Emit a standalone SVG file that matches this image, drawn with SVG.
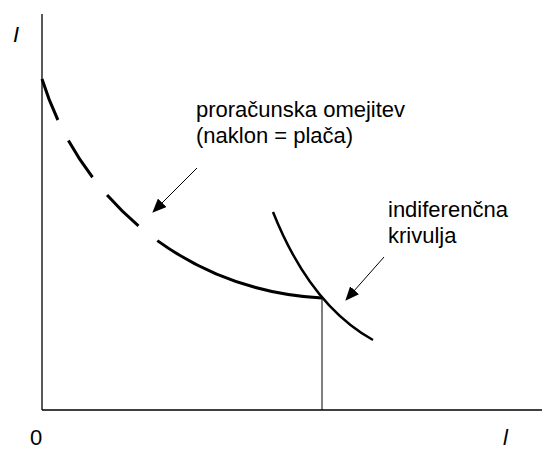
<svg xmlns="http://www.w3.org/2000/svg" width="542" height="450" viewBox="0 0 542 450">
<defs>
<style>
.lbl{font-family:"Liberation Sans",Arial,sans-serif;font-size:22px;fill:#000}
.ax{font-family:"Liberation Sans",Arial,sans-serif;font-size:22px;font-style:italic;fill:#000}
.axis{stroke:#000;stroke-width:1.3;fill:none}
.thin{stroke:#000;stroke-width:1;fill:none}
.ptr{stroke:#000;stroke-width:1;fill:none;marker-end:url(#ah)}
</style>
<marker id="ah" markerWidth="14" markerHeight="12" refX="13" refY="6" orient="auto" markerUnits="userSpaceOnUse">
<path d="M0,0 L14,6 L0,12 Z" fill="#000"/>
</marker>
</defs>
<rect width="542" height="450" fill="#fff"/>
<g id="axes">
<line class="axis" x1="42" y1="14" x2="42" y2="410"/>
<line class="axis" x1="42" y1="410" x2="542" y2="410"/>
<text class="ax" x="13" y="42">I</text>
<text class="lbl" x="30" y="445">0</text>
<text class="ax" x="503" y="445">l</text>
</g>
<g id="budget">
<path d="M42,79 C78,195 180,290 322,298" fill="none" stroke="#000" stroke-width="3" stroke-dasharray="44,23,44,23,44,24,1000"/>
</g>
<g id="indifference">
<path d="M273,212 Q310,305 373,340" fill="none" stroke="#000" stroke-width="2.5"/>
</g>
<g id="connectors">
<line class="thin" x1="322" y1="298" x2="322" y2="410"/>
<line class="ptr" x1="197" y1="168" x2="153" y2="212"/>
<line class="ptr" x1="384" y1="257" x2="346" y2="300"/>
</g>
<g id="label-budget">
<text class="lbl" x="196" y="117">proračunska omejitev</text>
<text class="lbl" x="196" y="143">(naklon = plača)</text>
</g>
<g id="label-indiff">
<text class="lbl" x="388" y="217">indiferenčna</text>
<text class="lbl" x="388" y="243">krivulja</text>
</g>
</svg>
